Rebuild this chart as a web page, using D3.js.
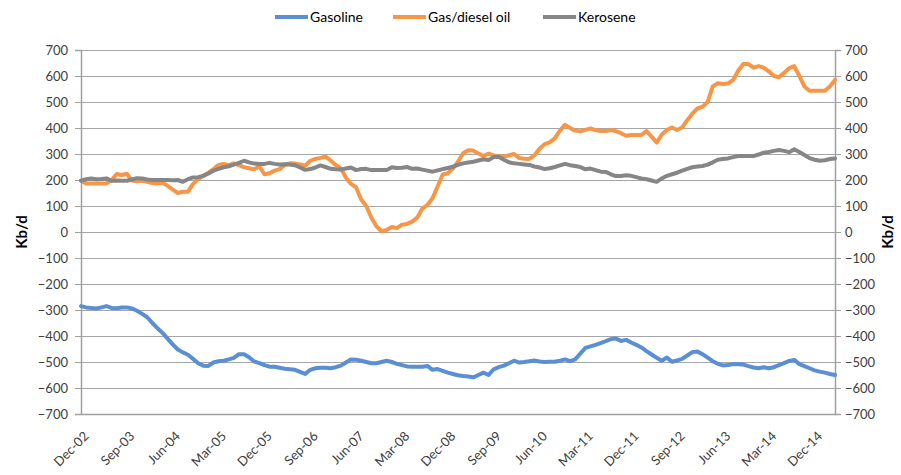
<!DOCTYPE html>
<html>
<head>
<meta charset="utf-8">
<script src="https://cdn.jsdelivr.net/npm/d3@7"></script>
<style>
  html, body { margin: 0; padding: 0; background: #fff; }
  svg { display: block; font-family: Lato, "Liberation Sans", sans-serif; }
</style>
</head>
<body>
<svg id="chart" width="901" height="475"></svg>
<script>
// ---- DATA ----
const startMonth = new Date(Date.UTC(2002, 11, 1)); // Dec-02
const endMonth = new Date(Date.UTC(2015, 4, 1));    // exclusive: last point Apr-15
const fmt = d3.utcFormat("%b-%y");
const categories = d3.utcMonth.range(startMonth, endMonth).map(fmt);

const tickLabels = ["Dec-02","Sep-03","Jun-04","Mar-05","Dec-05","Sep-06","Jun-07","Mar-08","Dec-08",
  "Sep-09","Jun-10","Mar-11","Dec-11","Sep-12","Jun-13","Mar-14","Dec-14"];

const yTicks = [-700,-600,-500,-400,-300,-200,-100,0,100,200,300,400,500,600,700];

const seriesNames = ["Gasoline", "Gas/diesel oil", "Kerosene"];

const gasoline = [-285,-290,-292,-294,-290,-285,-292,-293,-290,-290,-294,-303,-315,-328,-350,-370,-388,-410,-432,-452,
  -463,-472,-488,-505,-514,-515,-502,-497,-495,-490,-484,-470,-470,-482,-498,-504,-512,-518,-518,-522,
  -526,-528,-530,-538,-546,-530,-524,-522,-522,-524,-520,-514,-502,-490,-491,-495,-500,-505,-505,-500,
  -495,-500,-507,-512,-517,-518,-518,-518,-515,-530,-527,-534,-541,-546,-551,-554,-556,-559,-550,-541,
  -550,-528,-520,-514,-505,-495,-502,-500,-497,-494,-498,-500,-499,-499,-495,-490,-497,-490,-468,-446,
  -440,-434,-427,-420,-412,-410,-419,-415,-425,-434,-444,-458,-471,-484,-495,-483,-499,-494,-488,-475,
  -462,-460,-470,-483,-497,-507,-513,-512,-508,-509,-510,-516,-521,-524,-520,-524,-520,-512,-504,-496,
  -492,-508,-516,-524,-532,-537,-541,-546,-550];

const gasDiesel = [197,187,187,187,187,187,200,223,219,224,198,195,197,193,188,187,189,178,163,150,
  155,155,185,204,216,228,242,258,262,257,264,257,249,245,241,253,222,226,236,242,
  258,264,263,260,255,274,281,285,290,275,258,245,210,185,172,125,100,55,22,3,
  8,19,15,28,31,40,55,90,104,130,175,221,226,244,270,303,314,313,302,292,
  302,294,290,290,295,300,285,282,281,295,320,338,345,360,390,412,400,390,387,393,
  398,392,388,388,392,388,380,370,373,373,373,388,367,344,375,392,402,392,402,430,
  455,475,482,500,560,572,569,571,585,620,646,646,632,638,632,618,600,595,612,630,
  638,600,560,543,543,543,543,560,585];

const kerosene = [197,203,206,203,204,206,197,198,197,197,202,207,206,202,200,200,200,200,199,200,
  193,203,210,211,216,225,236,243,249,253,259,266,274,268,263,262,262,266,262,260,
  261,260,257,248,239,242,248,256,250,243,241,240,244,248,238,242,243,238,238,238,
  238,249,246,247,250,243,244,240,236,232,237,242,246,251,258,264,267,270,275,280,
  277,288,289,278,268,264,262,260,258,252,248,242,245,250,256,262,257,254,250,241,
  244,238,232,231,222,215,215,218,216,211,206,203,198,193,206,216,222,228,236,243,
  249,252,254,259,268,278,281,283,288,292,292,292,292,298,305,308,312,315,312,307,
  318,308,296,284,278,274,276,281,283];

const colors = ["#5a8fd4", "#f79646", "#868686"];

// ---- CHART ----
const svg = d3.select("#chart");
const mLeft = 81, mRight = 835, mTop = 50, mBottom = 414;

const x = d3.scalePoint().domain(categories).range([mLeft, mRight]);
const y = d3.scaleLinear().domain([-700, 700]).range([mBottom, mTop]);

// gridlines
svg.append("g")
  .attr("transform", `translate(${mLeft},0)`)
  .call(d3.axisLeft(y).tickValues(yTicks).tickSize(-(mRight - mLeft)).tickFormat(""))
  .call(g => g.select(".domain").remove())
  .call(g => g.selectAll("line").attr("stroke", "#a6a6a6").attr("stroke-width", 1));

// left axis
svg.append("g")
  .attr("transform", `translate(${mLeft},0)`)
  .call(d3.axisLeft(y).tickValues(yTicks).tickSize(6).tickPadding(7))
  .call(g => g.select(".domain").attr("stroke", "#a0a0a0").attr("stroke-width", 1.5))
  .call(g => g.selectAll(".tick line").attr("stroke", "#a0a0a0"))
  .call(g => g.selectAll("text").attr("fill", "#404040").style("font-size", "13px")
     .style("font-family", "Lato, 'Liberation Sans', sans-serif"));

// right axis
svg.append("g")
  .attr("transform", `translate(${mRight},0)`)
  .call(d3.axisRight(y).tickValues(yTicks).tickSize(6).tickPadding(4))
  .call(g => g.select(".domain").attr("stroke", "#a0a0a0").attr("stroke-width", 1.5))
  .call(g => g.selectAll(".tick line").attr("stroke", "#a0a0a0"))
  .call(g => g.selectAll("text").attr("fill", "#404040").style("font-size", "13px")
     .style("font-family", "Lato, 'Liberation Sans', sans-serif"));

// bottom axis
const xa = svg.append("g")
  .attr("transform", `translate(0,${mBottom})`)
  .call(d3.axisBottom(x).tickValues(tickLabels).tickSize(0))
  .call(g => g.select(".domain").attr("stroke", "#a0a0a0").attr("stroke-width", 1.5));
xa.selectAll("text")
  .attr("fill", "#404040")
  .style("font-size", "13px")
  .style("font-family", "Lato, 'Liberation Sans', sans-serif")
  .attr("text-anchor", "end")
  .attr("dy", null)
  .attr("y", 0)
  .attr("transform", "translate(8,23) rotate(-45)");

// axis titles
svg.append("text")
  .attr("transform", `translate(27,232) rotate(-90)`)
  .attr("text-anchor", "middle")
  .style("font-size", "15px").style("font-weight", "bold")
  .attr("fill", "#000")
  .text("Kb/d");
svg.append("text")
  .attr("transform", `translate(893,232) rotate(-90)`)
  .attr("text-anchor", "middle")
  .style("font-size", "15px").style("font-weight", "bold")
  .attr("fill", "#000")
  .text("Kb/d");

// lines
const line = d3.line()
  .x((d, i) => x(categories[i]))
  .y(d => y(d));

[gasoline, gasDiesel, kerosene].forEach((s, k) => {
  svg.append("path")
    .datum(s)
    .attr("fill", "none")
    .attr("stroke", colors[k])
    .attr("stroke-width", 4)
    .attr("stroke-linejoin", "round")
    .attr("stroke-linecap", "round")
    .attr("d", line);
});

// legend
const legendPos = [275, 393, 543];
const lg = svg.append("g");
seriesNames.forEach((n, k) => {
  const gx = legendPos[k];
  lg.append("line")
    .attr("x1", gx).attr("x2", gx + 33)
    .attr("y1", 17).attr("y2", 17)
    .attr("stroke", colors[k]).attr("stroke-width", 4);
  lg.append("text")
    .attr("x", gx + 35).attr("y", 22)
    .style("font-size", "14px")
    .attr("fill", "#000")
    .text(n);
});
</script>
</body>
</html>
